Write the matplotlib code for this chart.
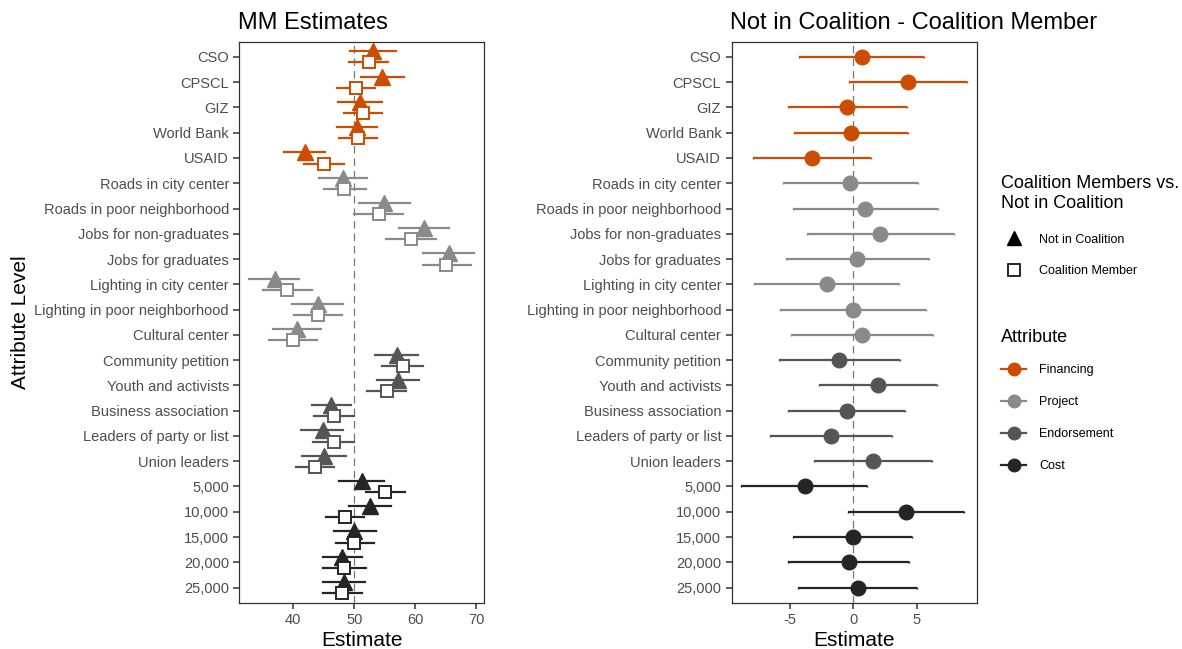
import matplotlib.pyplot as plt
import numpy as np
from matplotlib.lines import Line2D

plt.rcParams['font.family'] = ['Liberation Sans', 'DejaVu Sans']

levels = ['CSO', 'CPSCL', 'GIZ', 'World Bank', 'USAID',
          'Roads in city center', 'Roads in poor neighborhood',
          'Jobs for non-graduates', 'Jobs for graduates',
          'Lighting in city center', 'Lighting in poor neighborhood',
          'Cultural center', 'Community petition', 'Youth and activists',
          'Business association', 'Leaders of party or list', 'Union leaders',
          '5,000', '10,000', '15,000', '20,000', '25,000']
attrs = ['Financing'] * 5 + ['Project'] * 7 + ['Endorsement'] * 5 + ['Cost'] * 5

# MM estimates - not in coalition (triangles)
nic_est = [53.0, 54.5, 51.0, 50.5, 41.9, 48.2, 54.9, 61.4, 65.5, 37.0, 44.0,
           40.6, 57.0, 57.2, 46.2, 44.8, 45.0, 51.3, 52.6, 50.0, 48.0, 48.3]
nic_lo = [49.3, 51.1, 47.4, 47.2, 38.5, 44.3, 50.8, 57.3, 61.3, 32.8, 39.8,
          36.6, 53.4, 53.8, 43.0, 41.3, 41.5, 47.5, 49.2, 46.7, 44.8, 44.9]
nic_hi = [56.8, 58.1, 54.6, 53.7, 45.2, 52.1, 59.1, 65.5, 69.6, 41.0, 48.2,
          44.5, 60.4, 60.6, 49.4, 48.2, 48.6, 54.9, 56.0, 53.5, 51.3, 51.8]

# MM estimates - coalition member (squares)
cm_est = [52.4, 50.3, 51.5, 50.7, 45.1, 48.4, 54.0, 59.3, 65.1, 39.0, 44.0,
          39.9, 58.0, 55.3, 46.7, 46.6, 43.6, 55.1, 48.5, 50.0, 48.3, 48.0]
cm_lo = [49.2, 47.2, 48.4, 47.5, 41.8, 45.0, 50.0, 55.2, 61.3, 35.0, 40.1,
         36.0, 54.6, 52.1, 43.4, 43.2, 40.4, 51.9, 45.4, 47.0, 44.9, 44.8]
cm_hi = [55.6, 53.4, 54.6, 53.8, 48.4, 52.0, 58.0, 63.5, 69.1, 43.0, 48.0,
         43.9, 61.3, 58.5, 50.0, 50.0, 46.7, 58.4, 51.6, 53.3, 51.9, 51.3]

# difference: not in coalition - coalition member
diff_est = [0.71, 4.34, -0.47, -0.21, -3.26, -0.24, 0.95, 2.13, 0.32, -2.10,
            -0.03, 0.71, -1.10, 1.95, -0.50, -1.76, 1.55, -3.84, 4.16, -0.03,
            -0.37, 0.39]
diff_lo = [-4.26, -0.32, -5.16, -4.68, -7.89, -5.53, -4.79, -3.68, -5.34, -7.84,
           -5.76, -4.92, -5.87, -2.68, -5.18, -6.58, -3.08, -8.87, -0.45, -4.74,
           -5.13, -4.34]
diff_hi = [5.60, 8.95, 4.26, 4.32, 1.39, 5.08, 6.66, 7.92, 5.97, 3.63,
           5.74, 6.32, 3.68, 6.58, 4.08, 3.03, 6.24, 1.05, 8.74, 4.61,
           4.37, 5.05]

attr_names = ['Financing', 'Project', 'Endorsement', 'Cost']
attr_colors = {'Financing': '#CC4C02', 'Project': '#8A8A8A',
               'Endorsement': '#555555', 'Cost': '#252525'}

n = len(levels)
y = np.arange(n)
dodge = 0.22

fig = plt.figure(figsize=(11.82, 6.49), dpi=100)
ax1 = fig.add_axes([0.2025, 0.0713, 0.207, 0.8644])
ax2 = fig.add_axes([0.619, 0.0713, 0.2073, 0.8644])

for i in range(n):
    c = attr_colors[attrs[i]]
    ax1.plot([nic_lo[i], nic_hi[i]], [y[i] - dodge] * 2, color=c, lw=1.6, zorder=2)
    ax1.plot(nic_est[i], y[i] - dodge, marker='^', ms=11, color=c, mec=c, zorder=3)
    ax1.plot([cm_lo[i], cm_hi[i]], [y[i] + dodge] * 2, color=c, lw=1.6, zorder=2)
    ax1.plot(cm_est[i], y[i] + dodge, marker='s', ms=8.5, mfc='white', mec=c,
             mew=1.4, zorder=4)

    ax2.errorbar(diff_est[i], y[i],
                 xerr=[[diff_est[i] - diff_lo[i]], [diff_hi[i] - diff_est[i]]],
                 fmt='o', ms=10.5, color=c, ecolor=c, elinewidth=1.6,
                 capsize=1.0, capthick=1.0, zorder=3)

ax1.axvline(50, color='#777777', lw=0.9, ls=(0, (6, 4)), zorder=1)
ax2.axvline(0, color='#777777', lw=0.9, ls=(0, (6, 4)), zorder=1)

ax1.set_xlim(31.15, 71.3)
ax1.set_xticks([40, 50, 60, 70])
ax2.set_xlim(-9.6, 9.74)
ax2.set_xticks([-5, 0, 5])
ax2.set_xticklabels(['-5', '0', '5'])

for ax in (ax1, ax2):
    ax.set_ylim(n - 1 + 0.6, -0.6)
    ax.set_yticks(y)
    ax.set_yticklabels(levels)
    ax.tick_params(axis='both', colors='#333333', labelcolor='#4D4D4D',
                   labelsize=10.5, length=4, width=1.1)
    for s in ax.spines.values():
        s.set_color('#333333')
        s.set_linewidth(0.9)
    ax.set_xlabel('Estimate', fontsize=15, labelpad=3)

ax1.set_ylabel('Attribute Level', fontsize=15, labelpad=3)
ax1.set_title('MM Estimates', fontsize=17, loc='left', x=-0.005, pad=9)
ax2.set_title('Not in Coalition - Coalition Member', fontsize=17, loc='left',
              x=-0.005, pad=9)

shape_handles = [
    Line2D([], [], ls='none', marker='^', ms=10, color='black'),
    Line2D([], [], ls='none', marker='s', ms=8.5, mfc='white', mec='black', mew=1.2),
]
leg1 = fig.legend(shape_handles, ['Not in Coalition', 'Coalition Member'],
                  title='Coalition Members vs.\nNot in Coalition',
                  loc='upper left', bbox_to_anchor=(0.843, 0.738),
                  frameon=False, fontsize=9, title_fontsize=13,
                  labelspacing=1.55, handletextpad=1.0, alignment='left',
                  borderaxespad=0)
leg1._legend_box.sep = 16

attr_handles = [Line2D([], [], color=attr_colors[a], lw=1.6, marker='o', ms=9)
                for a in attr_names]
leg2 = fig.legend(attr_handles, attr_names, title='Attribute',
                  loc='upper left', bbox_to_anchor=(0.843, 0.501),
                  frameon=False, fontsize=9, title_fontsize=13,
                  labelspacing=1.6, handlelength=2.0, handletextpad=1.0,
                  alignment='left', borderaxespad=0)
leg2._legend_box.sep = 13

fig.savefig('out.png', dpi=100)
